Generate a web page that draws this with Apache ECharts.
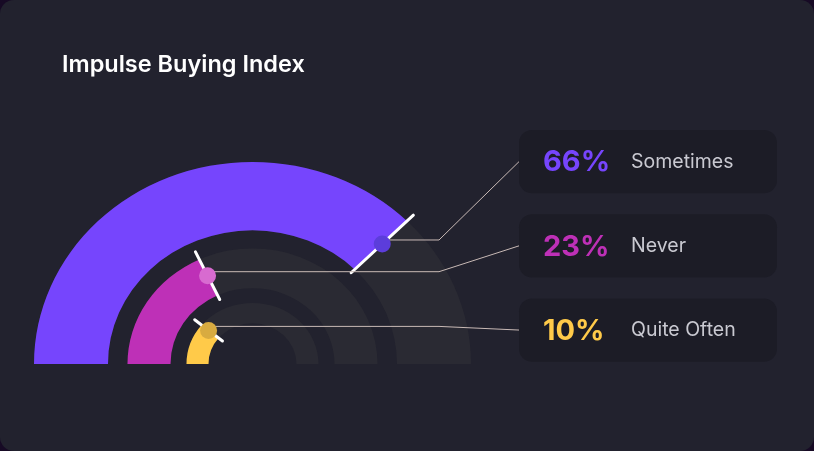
<!DOCTYPE html>
<html lang="en">
<head>
  <meta charset="UTF-8">
  <title>Impulse Buying Index</title>
  <style>
    *{
      margin: 0;
      padding: 0;
    }
    body{
      width: 814px;
      height: 451px;
      overflow: hidden;
      background: #170a25;
    }
    #chart{
      width: 814px;
      height: 451px;
      background: #22222e;
      border-radius: 14px;
    }
  </style>
</head>
<body>
<div id="chart"></div>

<script type="text/javascript" src="https://cdn.jsdelivr.net/npm/echarts@6/dist/echarts.min.js"></script>
<script>
  // survey answers
  var categories = ['Sometimes', 'Never', 'Quite Often'];
  var shares = [66, 23, 10];        // % shown in the boxes
  var arcSpans = [75, 36, 22];      // how far each arc runs, % of the half circle (as drawn)

  var colors = ['#7645fd', '#be30b7', '#ffca49'];
  var dotColors = ['#5c3ddb', '#d86bd0', '#d8ab40'];

  // ring sizes in px
  var ringOuter = [218.5, 125, 66];
  var ringInner = [144.5, 82, 44];
  var squash = 0.925; // the picture is slightly flattened

  var myChart = echarts.init(document.getElementById('chart'));

  function renderRing(params, api) {
    var i = params.dataIndex;
    var cx = params.coordSys.cx;
    var cy = params.coordSys.cy;
    var p = api.coord([api.value(0), api.value(1)]);
    var a = Math.atan2(p[1] - cy, p[0] - cx); // screen angle of the arc end
    var r = ringOuter[i], r0 = ringInner[i];

    function pt(rad) { // point on the end ray, flattened
      return [cx + rad * Math.cos(a), cy + rad * Math.sin(a) * squash];
    }

    var dot = pt((r + r0) / 2 + 2);
    var lead = dot[1] - 4;
    var boxTop = 130 + i * 84.2;
    var boxH = 63.3;
    var boxMid = boxTop + boxH / 2;

    return {
      type: 'group',
      children: [
        { // track + arc, flattened around the centre
          type: 'group',
          originX: cx,
          originY: cy,
          scaleY: squash,
          children: [{
            type: 'sector',
            shape: { cx: cx, cy: cy, r: r, r0: r0, startAngle: -Math.PI, endAngle: 0, clockwise: true },
            style: { fill: '#2a2a33' }
          }, {
            type: 'sector',
            shape: { cx: cx, cy: cy, r: r, r0: r0, startAngle: -Math.PI, endAngle: a, clockwise: true },
            style: { fill: colors[i] }
          }]
        },
        {
          type: 'line',
          shape: { x1: pt(r0 - 5)[0], y1: pt(r0 - 5)[1], x2: pt(r + 9)[0], y2: pt(r + 9)[1] },
          style: { stroke: '#ffffff', lineWidth: 3, lineCap: 'round' }
        },
        { // leader line to the box
          type: 'polyline',
          shape: { points: [[dot[0], lead], [439, lead], [519, boxMid]] },
          style: { stroke: '#c9bab6', lineWidth: 1, fill: null }
        },
        {
          type: 'circle',
          shape: { cx: dot[0], cy: dot[1], r: 8.5 },
          style: { fill: dotColors[i] }
        },
        {
          type: 'rect',
          shape: { x: 519, y: boxTop, width: 258, height: boxH, r: 13 },
          style: { fill: '#1c1c26' }
        },
        {
          type: 'text',
          style: {
            text: shares[i] + '%', x: 543, y: boxMid + 1,
            align: 'left', verticalAlign: 'middle',
            font: '700 29px Inter', fill: colors[i]
          }
        },
        {
          type: 'text',
          style: {
            text: categories[i], x: 631, y: boxMid,
            align: 'left', verticalAlign: 'middle',
            font: '400 19.5px Inter', fill: '#c9c9d1'
          }
        }
      ]
    };
  }

  var option = {
    backgroundColor: 'transparent',
    animation: false,
    title: {
      text: 'Impulse Buying Index',
      left: 62,
      top: 53,
      padding: 0,
      textStyle: { color: '#ffffff', fontSize: 23.5, fontWeight: 600, fontFamily: 'Inter' }
    },
    polar: {
      center: [252.5, 364],
      radius: [0, 218.5]
    },
    angleAxis: {
      type: 'value',
      min: 0,
      max: 200,        // 100 = half circle
      startAngle: 180,
      clockwise: true,
      axisLine: { show: false },
      axisTick: { show: false },
      axisLabel: { show: false },
      splitLine: { show: false }
    },
    radiusAxis: {
      type: 'category',
      data: categories,
      axisLine: { show: false },
      axisTick: { show: false },
      axisLabel: { show: false },
      splitLine: { show: false }
    },
    series: [{
      type: 'custom',
      coordinateSystem: 'polar',
      data: arcSpans.map(function (v, i) { return [i, v]; }),
      renderItem: renderRing
    }]
  };

  myChart.setOption(option);
</script>
</body>
</html>
